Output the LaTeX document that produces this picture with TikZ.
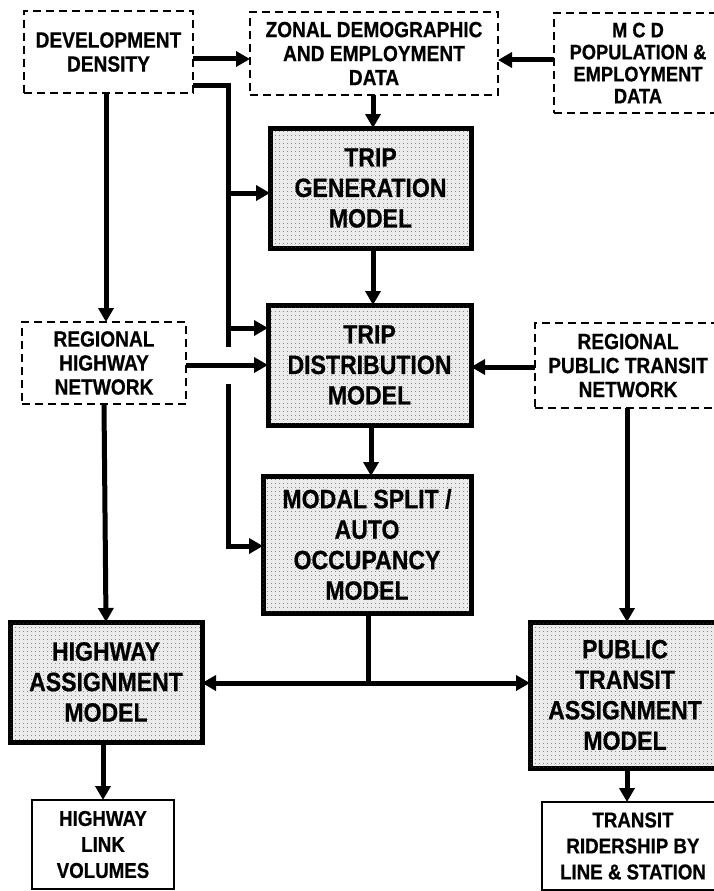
\documentclass[tikz,border=0pt]{standalone}
\usepackage{fontspec}
\setmainfont{Liberation Sans}
\newfontfamily\condfont{Liberation Sans}[FakeStretch=0.87, BoldFeatures={FakeBold=0.6}]
\usetikzlibrary{arrows.meta,patterns.meta}
\begin{document}
\begin{tikzpicture}[x=1pt,y=-1pt,
  base/.style={align=center, inner sep=0pt, outer sep=0pt, font=\condfont\bfseries\fontsize{22}{24}\selectfont},
  databox/.style={base, draw, line width=1.6pt, dash pattern=on 8pt off 5pt},
  modelbox/.style={base, draw, line width=5pt, fill=black!8,
    postaction={pattern={Dots[distance=4pt,radius=0.55pt]}, pattern color=black!75},
    font=\condfont\bfseries\fontsize{26.5}{30.5}\selectfont},
  outbox/.style={base, draw, line width=1.4pt, font=\condfont\bfseries\fontsize{21.5}{26}\selectfont},
  flow/.style={line width=5pt},
  arr/.style={flow, -{Triangle[length=14pt,width=15pt]}},
]
\useasboundingbox (0,0) rectangle (714,891);

% data boxes
\node[databox, minimum width=169pt, minimum height=82pt] (dd) at (108.5,52) {DEVELOPMENT\\DENSITY};
\node[databox, minimum width=248pt, minimum height=83pt] (zonal) at (374,53.5) {ZONAL DEMOGRAPHIC\\AND EMPLOYMENT\\DATA};
\node[databox, minimum width=168pt, minimum height=100pt, font=\condfont\bfseries\fontsize{21}{22}\selectfont] (mcd) at (638,63) {M C D\\POPULATION \&\\EMPLOYMENT\\DATA};
\node[databox, minimum width=164pt, minimum height=82pt] (rhw) at (104,363) {REGIONAL\\HIGHWAY\\NETWORK};
\node[databox, minimum width=186pt, minimum height=85pt] (rtn) at (628,365.5) {REGIONAL\\PUBLIC TRANSIT\\NETWORK};

% model boxes
\node[modelbox, minimum width=201pt, minimum height=120pt] (tgen) at (370.5,188) {TRIP\\GENERATION\\MODEL};
\node[modelbox, minimum width=203pt, minimum height=120pt] (tdist) at (369.5,365) {TRIP\\DISTRIBUTION\\MODEL};
\node[modelbox, minimum width=208pt, minimum height=137pt] (modal) at (367,544.5) {MODAL SPLIT /\\AUTO\\OCCUPANCY\\MODEL};
\node[modelbox, minimum width=192pt, minimum height=120pt] (hwa) at (106,682) {HIGHWAY\\ASSIGNMENT\\MODEL};
\node[modelbox, minimum width=190pt, minimum height=146pt] (pta) at (625,695) {PUBLIC\\TRANSIT\\ASSIGNMENT\\MODEL};

% output boxes
\node[outbox, minimum width=142pt, minimum height=89pt] (link) at (103,844.5) {HIGHWAY\\LINK\\VOLUMES};
\node[outbox, minimum width=182pt, minimum height=88pt] (rider) at (633,846) {TRANSIT\\RIDERSHIP BY\\LINE \& STATION};

% helper coordinates
\coordinate (r59) at (0,59);
\coordinate (r60) at (0,60);
\coordinate (r365) at (0,365);
\coordinate (r367) at (0,367);
\coordinate (c106) at (106,0);
\coordinate (c373) at (373,0);
\coordinate (c371) at (371,0);
\coordinate (c627) at (627,0);
\coordinate (t1) at (228,85);
\coordinate (t2) at (228,193);
\coordinate (t3) at (228,328);
\coordinate (t4) at (228,347);
\coordinate (t5) at (228,384);
\coordinate (t6) at (228,546);
\coordinate (jn) at (368,683);

% connectors
\draw[arr] (dd.east |- r59) -- (zonal.west |- r59);
\draw[arr] (mcd.west |- r60) -- (zonal.east |- r60);
\draw[arr] (zonal.south -| c373) -- (tgen.north -| c373);
\draw[arr] (dd.south -| c106) -- (rhw.north -| c106);
\draw[flow] (dd.east |- t1) -- (t1) -- (t4);
\draw[arr] (t2) -- (tgen.west |- t2);
\draw[arr] (t3) -- (tdist.west |- t3);
\draw[arr] (t5) -- (t6) -- (modal.west |- t6);
\draw[arr] (rhw.east |- r365) -- (tdist.west |- r365);
\draw[arr] (rtn.west |- r367) -- (tdist.east |- r367);
\draw[arr] (tgen.south -| c373) -- (tdist.north -| c373);
\draw[arr] (tdist.south -| c371) -- (modal.north -| c371);
\draw[arr] (rhw.south) -- (hwa.north);
\draw[arr] (rtn.south -| c627) -- (pta.north -| c627);
\draw[flow] (modal.south -| jn) -- (jn);
\draw[arr] (jn) -- (hwa.east |- jn);
\draw[arr] (jn) -- (pta.west |- jn);
\draw[arr] (hwa.south -| link.north) -- (link.north);
\draw[arr] (pta.south -| c627) -- (rider.north -| c627);
\end{tikzpicture}
\end{document}
